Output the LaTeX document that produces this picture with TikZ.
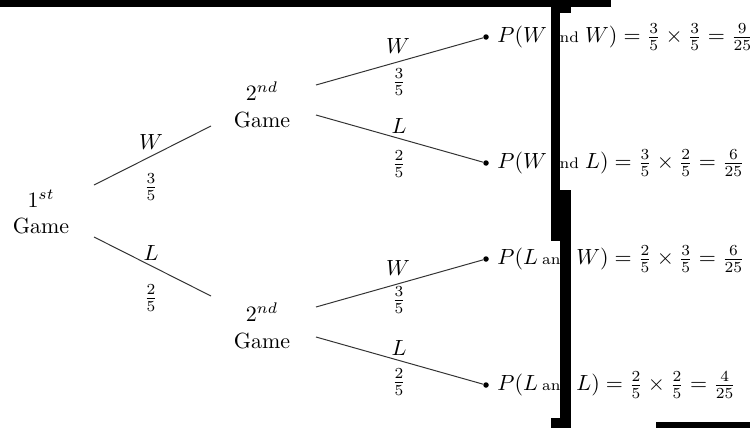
\documentclass[tikz,border=0pt]{standalone}
\usepackage{amsmath}
\newcommand{\andword}{\text{\hspace{1.8pt}\scriptsize and\hspace{2.8pt}}}
\begin{document}
\begin{tikzpicture}[x=0.016cm,y=-0.016cm,
  branch/.style={draw=black!80,line width=0.45pt},
  lbl/.style={inner sep=0pt,font=\normalsize},
  game/.style={align=center,inner sep=0pt,font=\normalsize},
  leaf/.style={circle,fill=black,inner sep=0pt,minimum size=5.5pt*0.455},
  res/.style={anchor=west,inner sep=0pt},
  mask/.style={fill=black,draw=none}]
\fill[white] (0,0) rectangle (750,428);
\useasboundingbox (0,0) rectangle (750,428);
% game nodes
\node[game] (g1) at (41,212) {$1^{st}$\\Game};
\node[game] (g2) at (262,105) {$2^{nd}$\\Game};
\node[game] (g3) at (262,326) {$2^{nd}$\\Game};
% endpoints
\coordinate (g1u) at (94,185);
\coordinate (g1d) at (94,237);
\coordinate (g2l) at (211,126);
\coordinate (g3l) at (211,296);
\coordinate (g2u) at (316,85);
\coordinate (g2d) at (316,115);
\coordinate (g3u) at (316,307);
\coordinate (g3d) at (316,337);
\node[leaf] (e1) at (486,37) {};
\node[leaf] (e2) at (486,163) {};
\node[leaf] (e3) at (486,259) {};
\node[leaf] (e4) at (486,385) {};
% branches
\draw[branch] (g1u) -- (g2l);
\draw[branch] (g1d) -- (g3l);
\draw[branch] (g2u) -- (e1);
\draw[branch] (g2d) -- (e2);
\draw[branch] (g3u) -- (e3);
\draw[branch] (g3d) -- (e4);
% labels
\node[lbl] (w1) at (151,142) {$W$};
\node[lbl] (p1) at (151,187) {$\frac{3}{5}$};
\node[lbl] (l1) at (151,253) {$L$};
\node[lbl] (p2) at (151,298) {$\frac{2}{5}$};
\node[lbl] (w2) at (398,46) {$W$};
\node[lbl] (p3) at (399,82) {$\frac{3}{5}$};
\node[lbl] (l2) at (399,126) {$L$};
\node[lbl] (p4) at (399,164) {$\frac{2}{5}$};
\node[lbl] (w3) at (398,268) {$W$};
\node[lbl] (p5) at (399,300) {$\frac{3}{5}$};
\node[lbl] (l3) at (399,348) {$L$};
\node[lbl] (p6) at (399,382) {$\frac{2}{5}$};
% results
\node[res] (r1) at (497,37) {$P(W \andword W) = \frac{3}{5}\times\frac{3}{5} = \frac{9}{25}$};
\node[res] (r2) at (497,163) {$P(W \andword L) = \frac{3}{5}\times\frac{2}{5} = \frac{6}{25}$};
\node[res] (r3) at (497,259) {$P(L \andword W) = \frac{2}{5}\times\frac{3}{5} = \frac{6}{25}$};
\node[res] (r4) at (497,385) {$P(L \andword L) = \frac{2}{5}\times\frac{2}{5} = \frac{4}{25}$};
% black masks
\fill[mask] (0,0) rectangle (611,7);
\fill[mask] (551,7) rectangle (571,13);
\fill[mask] (551,13) rectangle (560,190);
\fill[mask] (551,190) rectangle (571,241);
\fill[mask] (560,241) rectangle (571,418);
\fill[mask] (551,418) rectangle (571,428);
\fill[mask] (656,422) rectangle (750,428);
\end{tikzpicture}
\end{document}
